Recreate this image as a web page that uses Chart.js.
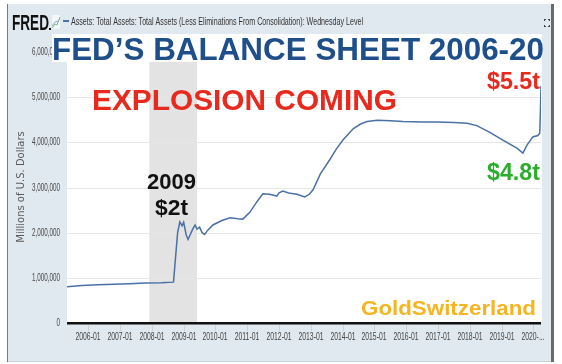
<!DOCTYPE html>
<html>
<head>
<meta charset="utf-8">
<title>Fed balance sheet 2006-20</title>
<script src="https://cdn.jsdelivr.net/npm/chart.js@4/dist/chart.umd.min.js"></script>
<style>
    html, body { margin: 0; padding: 0; background: #fff; }
    #wrap { width: 562px; height: 364px; }
</style>
</head>
<body>
<div id="wrap"><canvas id="fedChart" width="562" height="364"></canvas></div>
<script>
// Weekly level of total assets (decimal year / millions of USD)
const weekDates = [
    2005.33, 2005.8, 2006.3, 2006.8, 2007.3, 2007.8, 2008.3, 2008.68, 2008.75, 2008.81,
    2008.88, 2008.95, 2009.0, 2009.08, 2009.14, 2009.22, 2009.3, 2009.36, 2009.42, 2009.5,
    2009.58, 2009.66, 2009.75, 2009.92, 2010.2, 2010.46, 2010.7, 2010.86, 2011.08, 2011.3,
    2011.49, 2011.7, 2011.93, 2012.0, 2012.12, 2012.3, 2012.56, 2012.81, 2012.95, 2013.07,
    2013.3, 2013.6, 2013.8, 2014.01, 2014.33, 2014.55, 2014.77, 2015.09, 2015.5, 2015.9,
    2016.5, 2016.97, 2017.5, 2017.91, 2018.22, 2018.63, 2019.04, 2019.48, 2019.67, 2019.8,
    2019.98, 2020.14, 2020.2, 2020.22, 2020.24
];
const totalAssets = [
    805000, 830000, 845000, 860000, 870000, 885000, 890000, 905000, 1500000, 2000000,
    2240000, 2150000, 2230000, 1950000, 1850000, 1980000, 2100000, 2170000, 2080000, 2120000,
    2000000, 1960000, 2050000, 2170000, 2270000, 2330000, 2310000, 2300000, 2450000, 2680000,
    2860000, 2850000, 2810000, 2880000, 2920000, 2880000, 2850000, 2790000, 2850000, 2950000,
    3300000, 3620000, 3850000, 4050000, 4300000, 4400000, 4460000, 4490000, 4480000, 4460000,
    4450000, 4450000, 4440000, 4420000, 4370000, 4220000, 4050000, 3870000, 3760000, 3940000,
    4120000, 4150000, 4200000, 4650000, 5250000
];

const yearTicks = [2006, 2007, 2008, 2009, 2010, 2011, 2012, 2013, 2014, 2015, 2016, 2017, 2018, 2019, 2020];
const yearLabels = ['2006-01', '2007-01', '2008-01', '2009-01', '2010-01', '2011-01', '2012-01', '2013-01',
    '2014-01', '2015-01', '2016-01', '2017-01', '2018-01', '2019-01', '2020-...'];
const assetTicks = [0, 1000000, 2000000, 3000000, 4000000, 5000000, 6000000];
const assetLabels = ['0', '1,000,000', '2,000,000', '3,000,000', '4,000,000', '5,000,000', '6,000,000'];

// Dec 2007 - Jun 2009 recession
const recession = [2007.92, 2009.42];

document.addEventListener("DOMContentLoaded", () => {
    const canvas = document.getElementById('fedChart');
    const ctx = canvas.getContext('2d');

    const BG = '#e1e9f0';
    const LINE = '#4a70a6';

    // draw text squeezed/stretched horizontally so it fills a given width
    function fitText(c, text, x, y, width, font, color, align) {
        c.save();
        c.font = font;
        c.fillStyle = color;
        c.textBaseline = 'alphabetic';
        const w = c.measureText(text).width;
        const sx = width / w;
        c.translate(x, y);
        c.scale(sx, 1);
        c.textAlign = 'left';
        let ox = 0;
        if (align === 'center') ox = -w / 2;
        if (align === 'right') ox = -w;
        c.fillText(text, ox, 0);
        c.restore();
    }

    function squeezeText(c, text, x, y, sx, font, color, align) {
        c.save();
        c.font = font;
        c.fillStyle = color;
        c.textBaseline = 'middle';
        c.textAlign = align;
        c.translate(x, y);
        c.scale(sx, 1);
        c.fillText(text, 0, 0);
        c.restore();
    }

    const fredFrame = {
        id: 'fredFrame',
        beforeDraw(chart) {
            const c = chart.ctx;
            const area = chart.chartArea;
            const xs = chart.scales.x;
            const ys = chart.scales.y;

            c.save();
            c.fillStyle = '#fff';
            c.fillRect(0, 0, chart.width, chart.height);
            c.fillStyle = BG;
            c.fillRect(8, 4, 544, 358);
            // frame borders
            c.fillStyle = '#7a7a7a';
            c.fillRect(7, 4, 1, 358);
            c.fillStyle = '#6a6a6a';
            c.fillRect(551, 4, 3, 358);
            c.fillStyle = '#c9d2da';
            c.fillRect(8, 361, 543, 1);

            // plot panel
            c.fillStyle = '#fff';
            c.fillRect(area.left, 36, area.right - area.left + 1, area.bottom - 36);

            // recession band
            const r0 = xs.getPixelForValue(recession[0]);
            const r1 = xs.getPixelForValue(recession[1]);
            c.fillStyle = '#e3e3e3';
            c.fillRect(r0, area.top, r1 - r0, area.bottom - area.top);

            // horizontal grid
            c.strokeStyle = '#e6e6e6';
            c.lineWidth = 1;
            assetTicks.forEach(v => {
                if (v === 0) return;
                const y = Math.round(ys.getPixelForValue(v)) + 0.5;
                c.beginPath();
                c.moveTo(area.left, y);
                c.lineTo(area.right, y);
                c.stroke();
            });
            c.restore();
        },
        afterDatasetsDraw(chart) {
            const c = chart.ctx;
            const area = chart.chartArea;
            const xs = chart.scales.x;
            const ys = chart.scales.y;
            c.save();

            // zero axis
            c.fillStyle = '#111';
            c.fillRect(area.left, area.bottom - 1, area.right - area.left, 2.5);

            // x ticks + labels
            c.fillStyle = '#d0d0d0';
            yearTicks.forEach((yr, i) => {
                const x = Math.round(xs.getPixelForValue(yr));
                c.fillRect(x, area.bottom + 2, 1, 6);
                squeezeText(c, yearLabels[i], x, area.bottom + 14, 0.62, '11px "Liberation Sans", Arial, sans-serif', '#444', 'center');
            });

            // y labels
            assetTicks.forEach((v, i) => {
                const y = ys.getPixelForValue(v);
                squeezeText(c, assetLabels[i], 60, y, 0.57, '11px "Liberation Sans", Arial, sans-serif', '#444', 'right');
            });

            // y axis title
            c.save();
            c.translate(21, 187);
            c.rotate(-Math.PI / 2);
            c.font = '10px "DejaVu Sans", sans-serif';
            c.fillStyle = '#5a5a5a';
            c.textAlign = 'center';
            c.textBaseline = 'middle';
            c.fillText('Millions of U.S. Dollars', 0, 0);
            c.restore();

            // header: logo, legend entry, fullscreen icon
            fitText(c, 'FRED', 12, 30, 37, 'bold 22px "Liberation Sans", Arial, sans-serif', '#111', 'left');
            c.fillStyle = '#111';
            c.fillRect(49, 28, 2, 2);
            c.fillStyle = '#f4f7f9';
            c.fillRect(52, 15, 8, 14);
            c.strokeStyle = '#7fb77e';
            c.lineWidth = 1;
            c.beginPath();
            c.moveTo(52, 28); c.lineTo(55, 24); c.lineTo(57, 25); c.lineTo(60, 17);
            c.stroke();
            c.strokeStyle = '#8fa9cf';
            c.beginPath();
            c.moveTo(52, 26); c.lineTo(55, 22); c.lineTo(58, 21); c.lineTo(60, 19);
            c.stroke();

            c.fillStyle = LINE;
            c.fillRect(63, 20, 6, 2);
            fitText(c, 'Assets: Total Assets: Total Assets (Less Eliminations From Consolidation): Wednesday Level',
                71, 25, 292, '11px "Liberation Sans", Arial, sans-serif', '#333', 'left');

            c.fillStyle = '#444';
            [[544, 19], [548, 19], [544, 26], [548, 26]].forEach(p => c.fillRect(p[0], p[1], 2, 1));
            [[544, 19], [549, 19], [544, 25], [549, 25]].forEach(p => c.fillRect(p[0], p[1], 1, 2));

            // title box and overlay texts
            c.fillStyle = '#fff';
            c.fillRect(52, 34, area.right - 52 + 1, 28);
            fitText(c, 'FED\u2019S BALANCE SHEET 2006-20', 52, 60, 492, 'bold 32px "Liberation Sans", Arial, sans-serif', '#1f4f8b', 'left');
            fitText(c, 'EXPLOSION COMING', 92, 110, 305, 'bold 30px "Liberation Sans", Arial, sans-serif', '#e8291d', 'left');
            fitText(c, '2009', 147, 189, 49, 'bold 22px "Liberation Sans", Arial, sans-serif', '#111', 'left');
            fitText(c, '$2t', 155, 215, 33, 'bold 22px "Liberation Sans", Arial, sans-serif', '#111', 'left');
            fitText(c, '$5.5t', 487, 89, 53, 'bold 23px "Liberation Sans", Arial, sans-serif', '#e8291d', 'left');
            fitText(c, '$4.8t', 487, 180, 53, 'bold 23px "Liberation Sans", Arial, sans-serif', '#2bae2b', 'left');
            fitText(c, 'GoldSwitzerland', 361, 315, 175, 'bold 21px "Liberation Sans", Arial, sans-serif', '#f5b520', 'left');

            c.restore();
        }
    };

    new Chart(ctx, {
        type: 'line',
        data: {
            datasets: [{
                label: 'Assets: Total Assets',
                data: weekDates.map((d, i) => ({ x: d, y: totalAssets[i] })),
                borderColor: LINE,
                borderWidth: 1.5,
                pointRadius: 0,
                fill: false,
                tension: 0
            }]
        },
        options: {
            responsive: false,
            animation: false,
            devicePixelRatio: 1,
            layout: { padding: { left: 67, right: 21, top: 52, bottom: 41 } },
            plugins: {
                legend: { display: false },
                tooltip: { enabled: false }
            },
            scales: {
                x: { type: 'linear', display: false, min: 2005.33, max: 2020.24 },
                y: { display: false, min: 0, max: 6000000 }
            }
        },
        plugins: [fredFrame]
    });
});
</script>
</body>
</html>
